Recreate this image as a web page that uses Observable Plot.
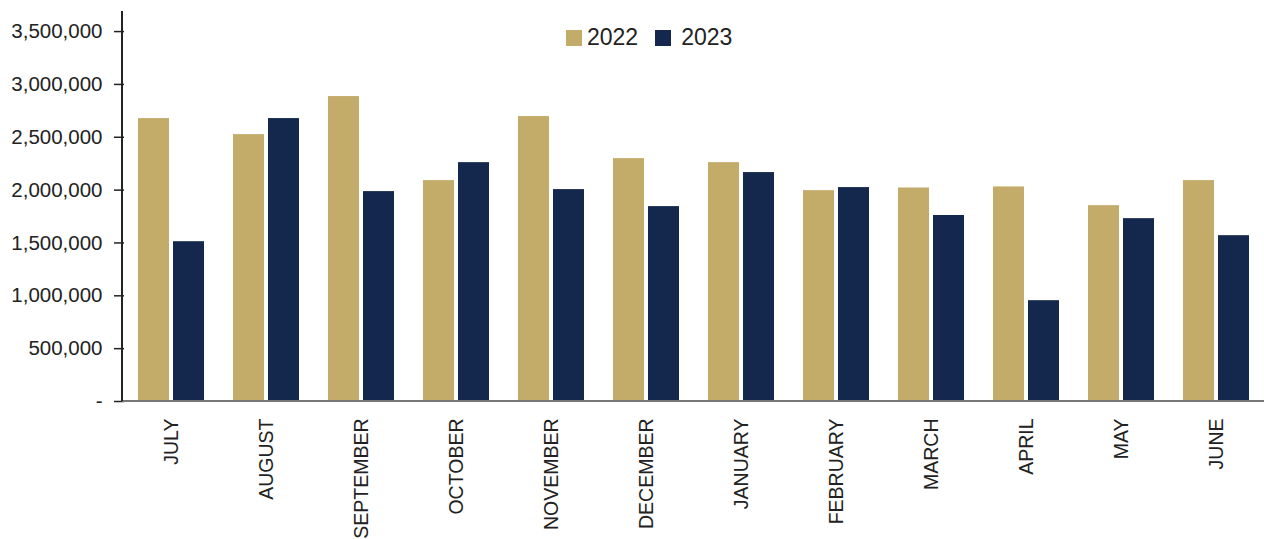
<!DOCTYPE html>
<html>
<head>
<meta charset="utf-8">
<script src="https://cdn.jsdelivr.net/npm/d3@7"></script>
<script src="https://cdn.jsdelivr.net/npm/@observablehq/plot@0.6"></script>
<style>
  html, body { margin: 0; padding: 0; background: #fff; overflow: hidden; }
  #wrap { position: relative; width: 1264px; height: 539px; overflow: hidden; }
  #legend { position: absolute; top: 24px; left: 566px; display: flex; align-items: center;
            font-family: "Liberation Sans", Arial, sans-serif; font-size: 23px; color: #222; }
  .sw { width: 16px; height: 16px; display: inline-block; margin-right: 5px; }
  .item { display: flex; align-items: center; margin-right: 17px; }
  .item + .item .sw { margin-right: 10px; }
</style>
</head>
<body>
<div id="wrap"></div>
<script>
const months = ["JULY","AUGUST","SEPTEMBER","OCTOBER","NOVEMBER","DECEMBER","JANUARY","FEBRUARY","MARCH","APRIL","MAY","JUNE"];
const years = ["2022","2023"];
const values2022 = [2677000, 2525000, 2885000, 2090000, 2696000, 2298000, 2260000, 1995000, 2020000, 2030000, 1853000, 2090000];
const values2023 = [1512000, 2677000, 1986000, 2260000, 2005000, 1844000, 2166000, 2024000, 1760000, 954000, 1730000, 1569000];
const yTicks = [0, 500000, 1000000, 1500000, 2000000, 2500000, 3000000, 3500000];
const colors = ["#c3ab69", "#13284c"];

const data = months.flatMap((m, i) => [
  {month: m, year: years[0], value: values2022[i]},
  {month: m, year: years[1], value: values2023[i]}
]);

const chart = Plot.plot({
  width: 1264,
  height: 539,
  marginLeft: 122,
  marginRight: -2,
  marginTop: 11,
  marginBottom: 138,
  style: {fontFamily: "'Liberation Sans', Arial, sans-serif", fontSize: "20px", color: "#222", background: "#fff", overflow: "hidden"},
  fx: {domain: months, padding: 0, label: null},
  x: {domain: years, paddingInner: 0.111, paddingOuter: 0.379, axis: null},
  y: {domain: [0, 3690000], label: null},
  color: {domain: years, range: colors},
  marks: [
    Plot.barY(data, {fx: "month", x: "year", y: "value", fill: "year"}),
    Plot.axisY({ticks: yTicks, tickFormat: d => d === 0 ? "-" : d3.format(",")(d), tickSize: 10, tickPadding: 12, stroke: "#222", strokeWidth: 1.5, fontSize: 20.5, label: null}),
    Plot.axisFx({anchor: "bottom", tickRotate: -90, tickSize: 0, tickPadding: 17, fontSize: 19.5, label: null})
  ]
});

const svg = d3.select(chart);
const y = chart.scale("y");
const fx = chart.scale("fx");
svg.append("line")
  .attr("x1", fx.range[0]).attr("x2", fx.range[1])
  .attr("y1", y.apply(0)).attr("y2", y.apply(0))
  .attr("stroke", "#777").attr("stroke-width", 1.8);
svg.append("line")
  .attr("x1", fx.range[0]).attr("x2", fx.range[0])
  .attr("y1", y.range[1]).attr("y2", y.apply(0))
  .attr("stroke", "#222").attr("stroke-width", 2);

const wrap = document.getElementById("wrap");
wrap.appendChild(chart);

const legend = document.createElement("div");
legend.id = "legend";
years.forEach((yr, i) => {
  const item = document.createElement("span");
  item.className = "item";
  const sw = document.createElement("span");
  sw.className = "sw";
  sw.style.background = colors[i];
  item.appendChild(sw);
  item.appendChild(document.createTextNode(yr));
  legend.appendChild(item);
});
wrap.appendChild(legend);
</script>
</body>
</html>
